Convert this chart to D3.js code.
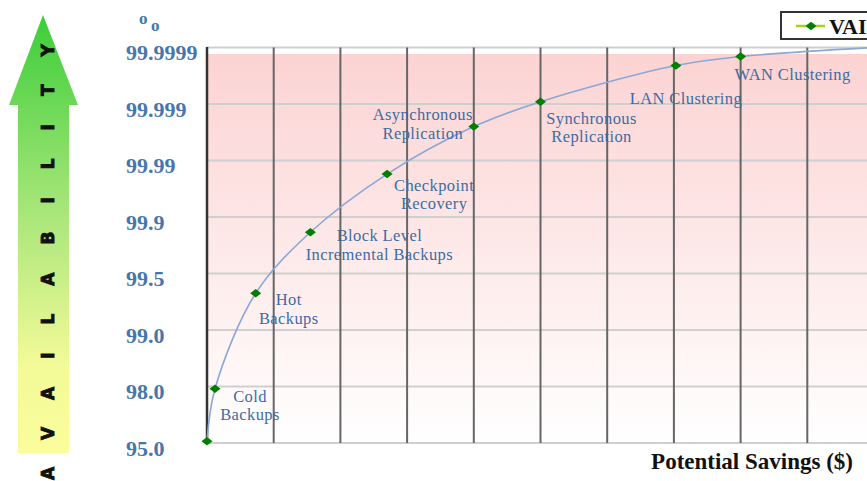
<!DOCTYPE html>
<html>
<head>
<meta charset="utf-8">
<script src="https://cdn.jsdelivr.net/npm/d3@7"></script>
<style>
  body { margin: 0; background: #fff; }
  svg { display: block; }
</style>
</head>
<body>
<div id="chart"></div>
<script>
// availability levels shown on the y axis (bottom to top)
const yTickLabels = ['95.0', '98.0', '99.0', '99.5', '99.9', '99.99', '99.999', '99.9999'];

// solutions along the curve
const solutions = ['', 'Cold\nBackups', 'Hot\nBackups', 'Block Level\nIncremental Backups',
    'Checkpoint\nRecovery', 'Asynchronous\nReplication', 'Synchronous\nReplication',
    'LAN Clustering', 'WAN Clustering', ''];
// x in grid columns (potential savings), y in availability level index
const savings = [0, 0.12, 0.73, 1.55, 2.7, 4.0, 5.0, 7.03, 8.0, 10];
const availability = [0.03, 0.96, 2.65, 3.73, 4.76, 5.6, 6.04, 6.68, 6.84, 7.0];

const seriesName = 'VAI';
const xTitle = 'Potential Savings ($)';
const arrowText = 'AVAILABILITY';

// label placement relative to each point
const labelOffsets = [[0, 0], [35, 7], [33, 6], [69, 3], [47, 11], [-51, -12], [51, 16], [10, 33], [52, 18], [0, 0]];

const width = 867, height = 481;
const xScale = d3.scaleLinear().domain([0, 10]).range([207, 874]);
const yScale = d3.scaleLinear().domain([0, yTickLabels.length - 1]).range([443, 47.5]);

const svg = d3.select('#chart').append('svg')
    .attr('width', width)
    .attr('height', height);

const defs = svg.append('defs');
const bg = defs.append('linearGradient').attr('id', 'bg')
    .attr('x1', 0).attr('y1', 0).attr('x2', 0).attr('y2', 1);
bg.append('stop').attr('offset', '0%').attr('stop-color', '#fcd3d3');
bg.append('stop').attr('offset', '100%').attr('stop-color', '#ffffff');

const arrowGrad = defs.append('linearGradient').attr('id', 'arrowGrad')
    .attr('x1', 0).attr('y1', 0).attr('x2', 0).attr('y2', 1);
arrowGrad.append('stop').attr('offset', '0%').attr('stop-color', '#3ccd3a');
arrowGrad.append('stop').attr('offset', '45%').attr('stop-color', '#a8e67a');
arrowGrad.append('stop').attr('offset', '80%').attr('stop-color', '#f3fa98');
arrowGrad.append('stop').attr('offset', '100%').attr('stop-color', '#fbfd9c');

// availability arrow
svg.append('path')
    .attr('d', 'M43,15 L78,105 L69,105 L69,453 L18,453 L18,105 L9,105 Z')
    .attr('fill', 'url(#arrowGrad)');

svg.append('text')
    .attr('transform', 'translate(48,480) rotate(-90)')
    .attr('dominant-baseline', 'central')
    .style('font-family', '"DejaVu Sans", sans-serif')
    .style('font-weight', 'bold')
    .style('font-size', '17px')
    .style('letter-spacing', '28px')
    .attr('fill', '#111')
    .attr('stroke', '#111')
    .attr('stroke-width', 0.9)
    .text(arrowText);

// plot background
const [x0, x1] = xScale.range();
svg.append('rect')
    .attr('x', x0).attr('y', 54)
    .attr('width', x1 - x0).attr('height', yScale(0) - 54)
    .attr('fill', 'url(#bg)');

// horizontal grid
svg.append('g').selectAll('line')
    .data(yTickLabels)
    .enter().append('line')
    .attr('x1', x0).attr('x2', x1)
    .attr('y1', (d, i) => yScale(i)).attr('y2', (d, i) => yScale(i))
    .attr('stroke', '#cfcfcf')
    .attr('stroke-width', 2);

// vertical grid
svg.append('g').selectAll('line')
    .data(d3.range(1, 11))
    .enter().append('line')
    .attr('x1', d => xScale(d)).attr('x2', d => xScale(d))
    .attr('y1', yScale(7)).attr('y2', yScale(0))
    .attr('stroke', '#666')
    .attr('stroke-width', 2);

svg.append('line')
    .attr('x1', x0).attr('x2', x0)
    .attr('y1', yScale(7) - 0.5).attr('y2', yScale(0))
    .attr('stroke', '#333')
    .attr('stroke-width', 2.5);

// y tick labels
svg.append('g').selectAll('text')
    .data(yTickLabels)
    .enter().append('text')
    .attr('x', 126)
    .attr('y', (d, i) => yScale(i) + 5)
    .attr('dy', '0.35em')
    .style('font-family', '"Liberation Serif", "Times New Roman", serif')
    .style('font-weight', 'bold')
    .style('font-size', '22px')
    .attr('fill', '#4676ab')
    .text(d => d);

// percent unit
const pct = svg.append('text')
    .style('font-family', '"Liberation Serif", "Times New Roman", serif')
    .style('font-weight', 'bold')
    .style('font-size', '17px')
    .attr('fill', '#4676ab');
pct.append('tspan').attr('x', 139).attr('y', 24).text('o');
pct.append('tspan').attr('x', 151).attr('y', 31).text('o');

// series
const points = savings.map((s, i) => ({ x: s, y: availability[i], label: solutions[i], off: labelOffsets[i] }));

const line = d3.line()
    .x(d => xScale(d.x))
    .y(d => yScale(d.y))
    .curve(d3.curveCatmullRom.alpha(0.5));

svg.append('path')
    .datum(points)
    .attr('d', line)
    .attr('fill', 'none')
    .attr('stroke', '#8aa7d6')
    .attr('stroke-width', 1.6);

const diamond = 'M-5.5,0L0,-4.2L5.5,0L0,4.2Z';
svg.append('g').selectAll('path')
    .data(points)
    .enter().append('path')
    .attr('d', diamond)
    .attr('transform', d => `translate(${xScale(d.x)},${yScale(d.y)})`)
    .attr('fill', '#007f00');

// point labels
const labelG = svg.append('g')
    .style('font-family', '"Liberation Serif", "Times New Roman", serif')
    .style('font-size', '16.5px')
    .style('letter-spacing', '0.4px')
    .attr('fill', '#3d6ca3');

points.filter(d => d.label).forEach(d => {
    const t = labelG.append('text')
        .attr('text-anchor', 'middle')
        .attr('x', xScale(d.x) + d.off[0])
        .attr('y', yScale(d.y) + d.off[1]);
    d.label.split('\n').forEach((ln, j) => {
        t.append('tspan')
            .attr('x', xScale(d.x) + d.off[0])
            .attr('dy', j === 0 ? '0.35em' : '18.5px')
            .text(ln);
    });
});

// legend
const legend = svg.append('g');
legend.append('rect')
    .attr('x', 781).attr('y', 12)
    .attr('width', 110).attr('height', 27)
    .attr('fill', '#fff')
    .attr('stroke', '#333')
    .attr('stroke-width', 2);
legend.append('line')
    .attr('x1', 796).attr('x2', 825)
    .attr('y1', 26).attr('y2', 26)
    .attr('stroke', '#a6d21e')
    .attr('stroke-width', 2.5);
legend.append('path')
    .attr('d', diamond)
    .attr('transform', 'translate(811,26)')
    .attr('fill', '#007f00');
legend.append('text')
    .attr('x', 829).attr('y', 34)
    .style('font-family', '"Liberation Serif", "Times New Roman", serif')
    .style('font-weight', 'bold')
    .style('font-size', '22px')
    .attr('fill', '#111')
    .text(seriesName);

// x title
svg.append('text')
    .attr('x', 853).attr('y', 469)
    .attr('text-anchor', 'end')
    .style('font-family', '"Liberation Serif", "Times New Roman", serif')
    .style('font-weight', 'bold')
    .style('font-size', '23px')
    .attr('fill', '#111')
    .text(xTitle);
</script>
</body>
</html>
